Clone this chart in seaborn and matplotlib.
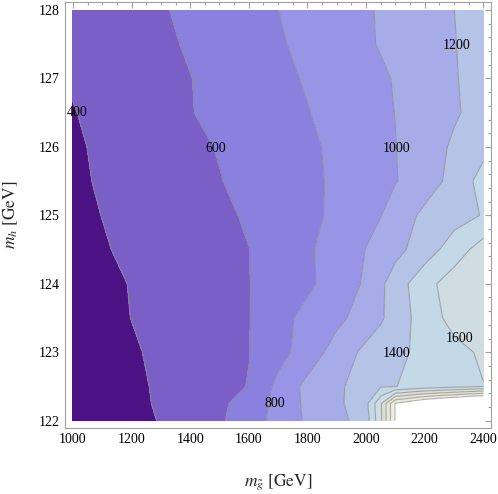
import matplotlib

matplotlib.use("Agg")

import matplotlib.pyplot as plt
import numpy as np
import seaborn as sns
from matplotlib.ticker import MultipleLocator

# grid: gluino mass (GeV) columns, higgs mass (GeV) rows
gluino_mass = [1000, 1100, 1200, 1300, 1400, 1500, 1600, 1700, 1800, 1900, 2000, 2050, 2100, 2200, 2300, 2400]
higgs_mass = [122.0, 122.25, 122.5, 123.0, 123.5, 124.0, 124.5, 125.0, 125.5, 126.0, 126.5, 127.0, 127.5, 128.0]

# contour quantity at each grid point, rows from m_h = 122 up to 128
reach = [
    [169, 250, 331, 412, 493, 574, 701, 867, 1031, 1129, 1300, 1760, 2420, 3000, 3000, 3000],
    [210, 281, 352, 423, 494, 565, 676, 860, 1043, 1151, 1348, 1770, 2420, 2700, 2900, 3100],
    [246, 305, 364, 424, 483, 543, 607, 851, 1053, 1163, 1300, 1385, 1395, 1480, 1540, 1595],
    [272, 326, 380, 434, 487, 541, 595, 732, 891, 1083, 1249, 1302, 1354, 1451, 1540, 1630],
    [306, 354, 402, 450, 498, 546, 594, 735, 856, 953, 1090, 1176, 1286, 1496, 1666, 1730],
    [313, 360, 407, 454, 502, 549, 596, 680, 766, 881, 1029, 1163, 1299, 1531, 1700, 1750],
    [345, 387, 429, 472, 514, 556, 598, 685, 774, 885, 1005, 1073, 1141, 1303, 1494, 1694],
    [361, 402, 444, 486, 527, 569, 618, 687, 755, 837, 943, 996, 1095, 1241, 1326, 1411],
    [371, 416, 460, 504, 549, 593, 649, 706, 763, 827, 909, 950, 990, 1113, 1257, 1480],
    [378, 424, 470, 516, 563, 610, 663, 716, 769, 834, 915, 955, 996, 1110, 1227, 1343],
    [393, 443, 493, 543, 593, 643, 693, 743, 793, 860, 930, 965, 1003, 1089, 1179, 1268],
    [415, 432, 487, 541, 596, 650, 705, 759, 816, 880, 944, 976, 1011, 1099, 1187, 1275],
    [420, 458, 512, 566, 619, 673, 727, 781, 843, 910, 977, 1012, 1048, 1121, 1194, 1267],
    [425, 476, 530, 584, 638, 692, 746, 799, 860, 921, 982, 1015, 1051, 1125, 1199, 1272],
]

contour_levels = [400, 600, 800, 1000, 1200, 1400, 1600, 1800, 2000, 2200, 2400]
fill_colors = [
    "#4b1284", "#7a60c6", "#8a80de", "#9894e6", "#a5ace8", "#b4c3e6",
    "#c3d9e8", "#cfdce2", "#dcdfd6", "#e6e4d4", "#eeebdf", "#ffffff",
]

label_text = ["400", "600", "800", "1000", "1200", "1400", "1600"]
label_x = [1015, 1488, 1688, 2105, 2310, 2105, 2320]
label_y = [126.51, 125.98, 122.25, 125.98, 127.48, 122.98, 123.20]

sns.set_theme(style="white")
plt.rcParams["font.family"] = ["Liberation Serif", "DejaVu Serif"]
plt.rcParams["mathtext.fontset"] = "stix"

frame_color = "#a0a0a0"

fig = plt.figure(figsize=(4.98, 4.94), dpi=100)
ax = fig.add_axes([0.1305, 0.1342, 0.856, 0.8617])

grid = np.array(reach, dtype=float)
fill_levels = [grid.min() - 1] + contour_levels + [grid.max() + 1]
ax.contourf(gluino_mass, higgs_mass, grid, levels=fill_levels,
            colors=sns.color_palette(fill_colors, len(fill_colors)))
ax.contour(gluino_mass, higgs_mass, grid, levels=contour_levels,
           colors="#8c8c8c", linewidths=0.8, alpha=0.7)

for text, x, y in zip(label_text, label_x, label_y):
    ax.text(x, y, text, ha="center", va="center", fontsize=10, color="black")

ax.set_xlim(1000 - 27, 2400 + 27)
ax.set_ylim(122 - 0.103, 128 + 0.117)

ax.xaxis.set_major_locator(MultipleLocator(200))
ax.xaxis.set_minor_locator(MultipleLocator(50))
ax.yaxis.set_major_locator(MultipleLocator(1))
ax.yaxis.set_minor_locator(MultipleLocator(0.2))
ax.tick_params(which="both", direction="in", top=True, right=True,
               color=frame_color, labelcolor="black", labelsize=10, width=0.8)
ax.tick_params(which="major", length=4.5, pad=4)
ax.tick_params(which="minor", length=2.5)
for spine in ax.spines.values():
    spine.set_color(frame_color)
    spine.set_linewidth(0.8)

ax.set_xlabel(r"$m_{\tilde{g}}\ [\mathrm{GeV}]$", fontsize=12.5)
ax.set_ylabel(r"$m_h\ [\mathrm{GeV}]$", fontsize=12.5)
ax.xaxis.set_label_coords(0.5, -0.105)
ax.yaxis.set_label_coords(-0.106, 0.5)

fig.savefig("out.png", dpi=100)
